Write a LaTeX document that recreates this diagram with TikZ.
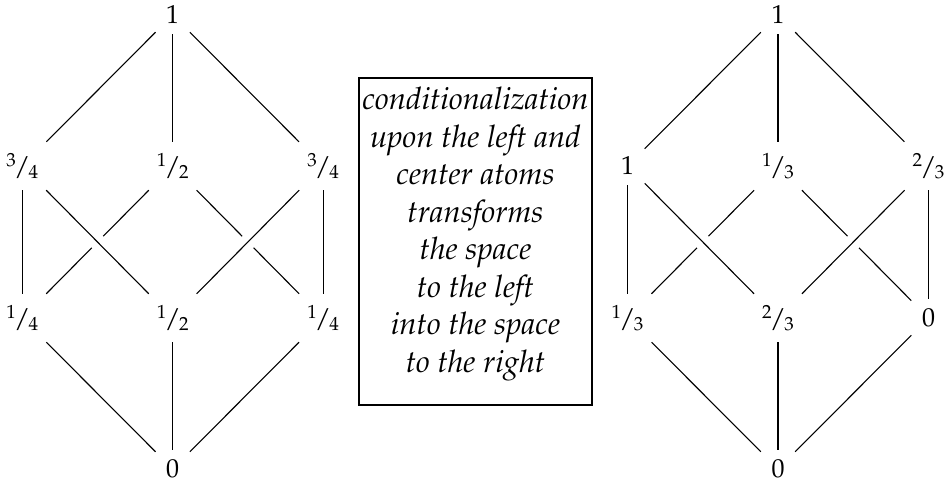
\documentclass[tikz,border=0pt]{standalone}
\usepackage[T1]{fontenc}
\usepackage{mathpazo}
\newcommand{\fr}[2]{{\fontsize{19}{19}\selectfont\raisebox{0.50em}{#1}}\kern-0.06em/\kern-0.06em{\fontsize{19}{19}\selectfont\raisebox{-0.15em}{#2}}}
\tikzset{
  lab/.style={font=\fontsize{26}{26}\selectfont, inner sep=0pt, anchor=center},
  dig/.style={lab, minimum width=34pt, minimum height=38pt},
  frc/.style={lab, minimum width=48pt, minimum height=48pt},
  edge/.style={line width=1.1pt},
  front/.style={edge, preaction={draw=white, line width=16pt}},
  framebox/.style={draw, line width=1.2pt, minimum width=233pt, minimum height=327pt, inner sep=0pt},
  boxtext/.style={align=center, font=\fontsize{31}{37.5}\selectfont\itshape, inner sep=0pt}
}
\begin{document}
\begin{tikzpicture}[x=1pt,y=1pt]
\useasboundingbox (0,0) rectangle (950,484);
% left lattice
\node[dig] (lT)  at (172.7,469) {1};
\node[frc] (lML) at (22.3,318) {\fr{3}{4}};
\node[frc] (lMC) at (172.7,318) {\fr{1}{2}};
\node[frc] (lMR) at (323.1,318) {\fr{3}{4}};
\node[frc] (lBL) at (22.3,166) {\fr{1}{4}};
\node[frc] (lBC) at (172.7,166) {\fr{1}{2}};
\node[frc] (lBR) at (323.1,166) {\fr{1}{4}};
\node[dig] (lB)  at (172.7,15) {0};
% right lattice
\node[dig] (rT)  at (778,469) {1};
\node[dig] (rML) at (627.5,318) {1};
\node[frc] (rMC) at (778,318) {\fr{1}{3}};
\node[frc] (rMR) at (928.5,318) {\fr{2}{3}};
\node[frc] (rBL) at (627.5,166) {\fr{1}{3}};
\node[frc] (rBC) at (778,166) {\fr{2}{3}};
\node[dig] (rBR) at (928.5,166) {0};
\node[dig] (rB)  at (778,15) {0};
% box
\node[framebox] (box) at (475.5,242.5) {};
\node[boxtext] (txt) at (475.5,250) {conditionalization\\upon the left and\\center atoms\\transforms\\the space\\to the left\\into the space\\to the right};
% edges
\foreach \s in {l,r}{
  \draw[edge] (\s T) -- (\s ML);
  \draw[edge] (\s T) -- (\s MC);
  \draw[edge] (\s T) -- (\s MR);
  \draw[edge] (\s ML) -- (\s BL);
  \draw[edge] (\s MR) -- (\s BR);
  \draw[edge] (\s MC) -- (\s BL);
  \draw[edge] (\s MC) -- (\s BR);
  \draw[front] (\s ML) -- (\s BC);
  \draw[front] (\s MR) -- (\s BC);
  \draw[edge] (\s BL) -- (\s B);
  \draw[edge] (\s BC) -- (\s B);
  \draw[edge] (\s BR) -- (\s B);
}
\end{tikzpicture}
\end{document}
